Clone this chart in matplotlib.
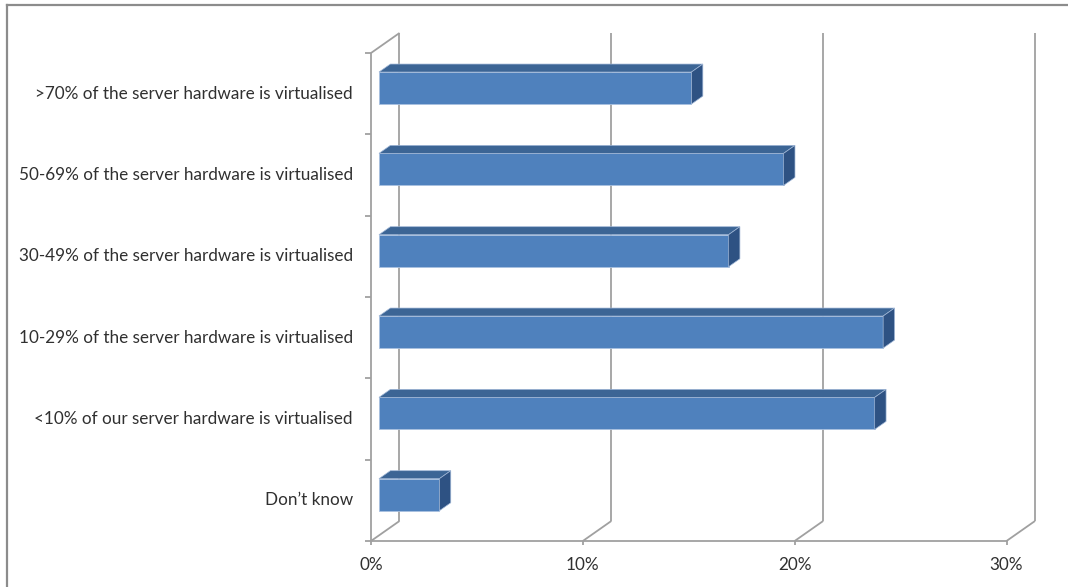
import matplotlib
matplotlib.use("Agg")
import matplotlib.pyplot as plt
from matplotlib.patches import Polygon
from matplotlib.lines import Line2D

# ── Data ─────────────────────────────────────────────────────────────────────
categories = [
    "Don\u2019t know",
    "<10% of our server hardware is virtualised",
    "10-29% of the server hardware is virtualised",
    "30-49% of the server hardware is virtualised",
    "50-69% of the server hardware is virtualised",
    ">70% of the server hardware is virtualised",
]
values = [2.85, 23.4, 23.8, 16.5, 19.1, 14.75]   # percent
xticks = [0, 10, 20, 30]
xtick_labels = ["0%", "10%", "20%", "30%"]

# ── Style / 3D-look parameters ───────────────────────────────────────────────
FRONT = "#4F81BD"
TOP = "#3C6595"
SIDE = "#2E5283"
GRID = "#A0A0A0"
TEXT = "#303030"
DX, DY = 1.345, 0.246        # oblique depth offset (x in %, y in categories)
D0, D1 = 0.28, 0.40          # bar front-face depth and bar depth (fractions)
BAR_H = 0.394

plt.rcParams["font.family"] = ["Lato", "DejaVu Sans"]

fig = plt.figure(figsize=(10.68, 5.87), dpi=100)
ax = fig.add_axes([371 / 1068, 46 / 587, 635.5 / 1068, 488 / 587])
ax.set_xlim(0, 30)
ax.set_ylim(0, len(categories))
ax.axis("off")

n = len(categories)
lk = dict(color=GRID, lw=1.3, clip_on=False, solid_capstyle="butt", zorder=1)

# walls + floor
ax.plot([0, 0], [0, n], **lk)
ax.plot([DX, DX], [DY, n + DY], **lk)
ax.plot([0, DX], [n, n + DY], **lk)
ax.plot([0, 30], [0, 0], **lk)
for t in xticks:
    ax.plot([t, t + DX], [0, DY], **lk)
    if t > 0:
        ax.plot([t + DX, t + DX], [DY, n + DY], **lk)
    ax.plot([t, t], [0, -0.05], **lk)
for i in range(n + 1):
    ax.plot([-0.28, 0], [i, i], **lk)

# bars (front faces via barh, top/side faces as polygons)
ys = [i + 0.5 + D0 * DY for i in range(n)]
x0 = D0 * DX
ax.barh(ys, values, height=BAR_H, left=x0, color=FRONT,
        edgecolor="#A9C1E0", linewidth=0.6, zorder=3)
ox, oy = D1 * DX, D1 * DY
for y, v in zip(ys, values):
    yt, yb = y + BAR_H / 2, y - BAR_H / 2
    xe = x0 + v
    ax.add_patch(Polygon([(x0, yt), (xe, yt), (xe + ox, yt + oy), (x0 + ox, yt + oy)],
                         closed=True, facecolor=TOP, edgecolor="#9FB6D6", lw=0.5, zorder=3))
    ax.add_patch(Polygon([(xe, yb), (xe, yt), (xe + ox, yt + oy), (xe + ox, yb + oy)],
                         closed=True, facecolor=SIDE, edgecolor="#9FB6D6", lw=0.5, zorder=3))

# labels
for i, lab in enumerate(categories):
    ax.text(-0.85, i + 0.5, lab, ha="right", va="center", fontsize=12.3, color=TEXT)
for t, lab in zip(xticks, xtick_labels):
    ax.text(t, -0.29, lab, ha="center", va="center", fontsize=12.3, color=TEXT)

# outer frame (left and top edges)
fig.add_artist(Line2D([7 / 1068, 7 / 1068], [0, 1 - 5 / 587], color="#8C8C8C", lw=1.6,
                      transform=fig.transFigure))
fig.add_artist(Line2D([7 / 1068, 1], [1 - 5 / 587, 1 - 5 / 587], color="#8C8C8C", lw=1.6,
                      transform=fig.transFigure))

fig.savefig("out.png", dpi=100)
